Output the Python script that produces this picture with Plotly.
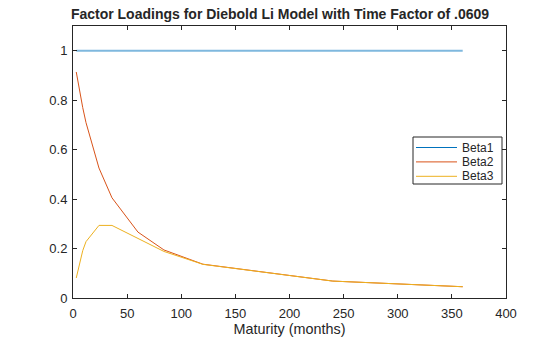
import plotly.graph_objects as go

# Maturities in months and the three Nelson-Siegel factor loadings (lambda = 0.0609)
maturities = [3, 6, 9, 12, 24, 36, 60, 84, 120, 240, 360]
beta1 = [1, 1, 1, 1, 1, 1, 1, 1, 1, 1, 1]
beta2 = [0.9140, 0.8376, 0.7698, 0.7094, 0.5255, 0.4052, 0.2666, 0.1943, 0.1367, 0.0684, 0.0456]
beta3 = [0.0810, 0.1437, 0.1917, 0.2279, 0.2936, 0.2935, 0.2407, 0.1883, 0.1361, 0.0684, 0.0456]

names = ["Beta1", "Beta2", "Beta3"]
colors = ["#0072BD", "#D95319", "#EDB120"]
plot_colors = ["#7FB8DE", "#D95319", "#EDB120"]
plot_widths = [2, 1, 1]

W, H = 560, 337
L, R, T, B = 73, 54, 26, 39
pw, ph = W - L - R, H - T - B

def px(x):
    return (x - L) / pw

def py(y):
    return (H - B - y) / ph

fig = go.Figure()
for name, vals, col, lw in zip(names, [beta1, beta2, beta3], plot_colors, plot_widths):
    fig.add_trace(go.Scatter(x=maturities, y=vals, mode="lines", name=name,
                             line=dict(color=col, width=lw), showlegend=False))

# Boxed legend in the upper right of the axes
shapes = [dict(type="rect", xref="paper", yref="paper",
               x0=px(413), x1=px(502), y0=py(184), y1=py(137),
               line=dict(color="#262626", width=1), fillcolor="white", layer="above")]
annotations = []
for i, (name, col) in enumerate(zip(names, colors)):
    yy = 147.5 + i * 14.4
    shapes.append(dict(type="line", xref="paper", yref="paper",
                       x0=px(416), x1=px(457), y0=py(yy), y1=py(yy),
                       line=dict(color=col, width=1), layer="above"))
    annotations.append(dict(xref="paper", yref="paper", x=px(460), y=py(yy),
                            xanchor="left", yanchor="middle", showarrow=False,
                            text=name, font=dict(size=12, color="#262626")))

axis_common = dict(showline=True, linecolor="#262626", linewidth=1, mirror="ticks",
                   ticks="inside", ticklen=4, tickcolor="#262626", showgrid=False,
                   zeroline=False, automargin=False,
                   tickfont=dict(size=13, color="#262626"))

fig.update_layout(
    template="none",
    width=W, height=H,
    margin=dict(l=L, r=R, t=T, b=B, autoexpand=False),
    paper_bgcolor="white", plot_bgcolor="white",
    font=dict(family="Liberation Sans, Arial, sans-serif", color="#262626"),
    title=dict(text="<b>Factor Loadings for Diebold Li Model with Time Factor of .0609</b>",
               x=0.5, xanchor="center", y=1 - 14 / H, yanchor="middle",
               font=dict(size=14, color="#262626")),
    xaxis=dict(range=[0, 400], tickvals=list(range(0, 401, 50)),
               title=dict(text="Maturity (months)", font=dict(size=14.4), standoff=2),
               ticklabelstandoff=3, **axis_common),
    yaxis=dict(range=[0, 1.1], tickvals=[0, 0.2, 0.4, 0.6, 0.8, 1],
               ticktext=["0", "0.2", "0.4", "0.6", "0.8", "1"], ticklabelstandoff=2,
               **axis_common),
    shapes=shapes,
    annotations=annotations,
    showlegend=False,
)

fig.write_html("out.html")
